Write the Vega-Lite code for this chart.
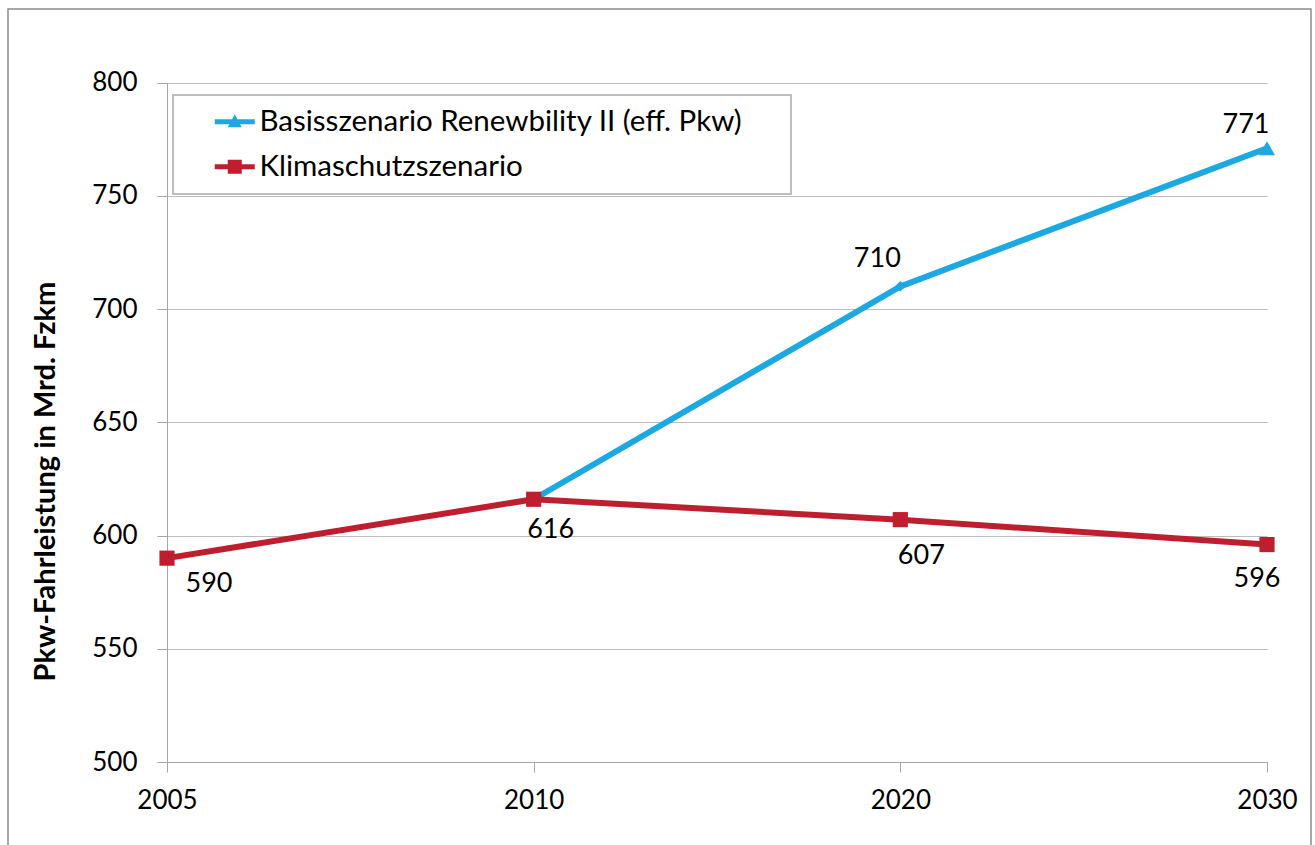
{
  "$schema": "https://vega.github.io/schema/vega-lite/v6.json",
  "width": 1303,
  "height": 840,
  "autosize": {"type": "none"},
  "padding": {"left": 8, "top": 9, "right": 4, "bottom": 0},
  "background": "white",
  "config": {
    "view": {"stroke": "#8c8c8c", "strokeWidth": 1.5},
    "font": "Lato",
    "text": {"font": "Lato", "fontSize": 27, "color": "#000000", "baseline": "alphabetic", "align": "center"}
  },
  "data": {
    "values": [
      {"series": "Basisszenario Renewbility II (eff. Pkw)", "year": "2010", "value": 616},
      {"series": "Basisszenario Renewbility II (eff. Pkw)", "year": "2020", "value": 710},
      {"series": "Basisszenario Renewbility II (eff. Pkw)", "year": "2030", "value": 771},
      {"series": "Klimaschutzszenario", "year": "2005", "value": 590},
      {"series": "Klimaschutzszenario", "year": "2010", "value": 616},
      {"series": "Klimaschutzszenario", "year": "2020", "value": 607},
      {"series": "Klimaschutzszenario", "year": "2030", "value": 596}
    ]
  },
  "encoding": {
    "x": {
      "field": "year",
      "type": "ordinal",
      "scale": {"type": "point", "domain": ["2005", "2010", "2020", "2030"], "range": [159, 1259], "padding": 0},
      "axis": {
        "orient": "bottom",
        "offset": -87,
        "grid": false,
        "title": null,
        "labelAngle": 0,
        "tickSize": 10,
        "labelPadding": 15,
        "domainColor": "#a6a6a6",
        "tickColor": "#a6a6a6",
        "labelFont": "Lato",
        "labelFontSize": 26,
        "labelColor": "#000000"
      }
    },
    "y": {
      "field": "value",
      "type": "quantitative",
      "scale": {"domain": [500, 800], "range": [753, 73.5], "nice": false, "zero": false},
      "axis": {
        "orient": "left",
        "offset": -159,
        "values": [500, 550, 600, 650, 700, 750, 800],
        "grid": true,
        "gridColor": "#bdbdbd",
        "tickSize": 10,
        "labelPadding": 20,
        "domainColor": "#a6a6a6",
        "tickColor": "#a6a6a6",
        "labelFont": "Lato",
        "labelFontSize": 26,
        "labelColor": "#000000",
        "title": "Pkw-Fahrleistung in Mrd. Fzkm",
        "titleFont": "Lato",
        "titleFontSize": 29,
        "titleFontWeight": "bold",
        "titleColor": "#000000",
        "titleAngle": -90,
        "titleAlign": "center",
        "titleBaseline": "middle",
        "titleX": -122,
        "titleY": 472
      }
    }
  },
  "layer": [
    {
      "mark": {"type": "line", "strokeWidth": 6},
      "encoding": {
        "color": {
          "field": "series",
          "type": "nominal",
          "scale": {
            "domain": ["Basisszenario Renewbility II (eff. Pkw)", "Klimaschutzszenario"],
            "range": ["#1ca8e1", "#be1e2d"]
          },
          "legend": {
            "orient": "none",
            "legendX": 165,
            "legendY": 86,
            "title": " ",
            "titleOrient": "right",
            "titlePadding": 37,
            "titleFontSize": 2,
            "padding": 12,
            "rowPadding": 14,
            "strokeColor": "#bfbfbf",
            "fillColor": "#ffffff",
            "symbolSize": 400,
            "symbolOffset": 35,
            "labelOffset": 10,
            "labelFont": "Lato",
            "labelFontSize": 29.5,
            "labelColor": "#000000",
            "labelLimit": 1000,
            "encode": {
              "legend": {"update": {"strokeWidth": {"value": 2}}},
              "symbols": {
                "update": {
                  "shape": {"signal": "datum.value === 'Klimaschutzszenario' ? 'M-2,-0.25H2V0.25H-2Z M-0.7,-0.7H0.7V0.7H-0.7Z' : 'M-2,-0.25H2V0.25H-2Z M0,-0.75L0.7,0.55H-0.7Z'"},
                  "fill": {"scale": "color", "field": "value"},
                  "strokeWidth": {"value": 0},
                  "opacity": {"value": 1}
                }
              }
            }
          }
        }
      }
    },
    {
      "transform": [{"filter": "datum.series === 'Klimaschutzszenario'"}],
      "mark": {"type": "point", "shape": "square", "filled": true, "size": 230, "color": "#be1e2d", "opacity": 1}
    },
    {
      "transform": [{"filter": "datum.series !== 'Klimaschutzszenario' && datum.year === '2030'"}],
      "mark": {"type": "point", "shape": "triangle-up", "filled": true, "size": 260, "color": "#1ca8e1", "opacity": 1}
    },
    {
      "transform": [{"filter": "datum.series !== 'Klimaschutzszenario' && datum.year === '2020'"}],
      "mark": {"type": "point", "shape": "diamond", "filled": true, "size": 110, "color": "#1ca8e1", "opacity": 1}
    },
    {
      "transform": [{"filter": "datum.series === 'Klimaschutzszenario' && datum.year === '2005'"}],
      "mark": {"type": "text", "dx": 42, "dy": 34},
      "encoding": {"text": {"field": "value", "type": "quantitative"}}
    },
    {
      "transform": [{"filter": "datum.series === 'Klimaschutzszenario' && datum.year === '2010'"}],
      "mark": {"type": "text", "dx": 17, "dy": 39},
      "encoding": {"text": {"field": "value", "type": "quantitative"}}
    },
    {
      "transform": [{"filter": "datum.series === 'Klimaschutzszenario' && datum.year === '2020'"}],
      "mark": {"type": "text", "dx": 21, "dy": 44},
      "encoding": {"text": {"field": "value", "type": "quantitative"}}
    },
    {
      "transform": [{"filter": "datum.series === 'Klimaschutzszenario' && datum.year === '2030'"}],
      "mark": {"type": "text", "dx": -10, "dy": 42},
      "encoding": {"text": {"field": "value", "type": "quantitative"}}
    },
    {
      "transform": [{"filter": "datum.series !== 'Klimaschutzszenario' && datum.year === '2020'"}],
      "mark": {"type": "text", "dx": -23, "dy": -19},
      "encoding": {"text": {"field": "value", "type": "quantitative"}}
    },
    {
      "transform": [{"filter": "datum.series !== 'Klimaschutzszenario' && datum.year === '2030'"}],
      "mark": {"type": "text", "dx": -21, "dy": -15},
      "encoding": {"text": {"field": "value", "type": "quantitative"}}
    }
  ]
}
